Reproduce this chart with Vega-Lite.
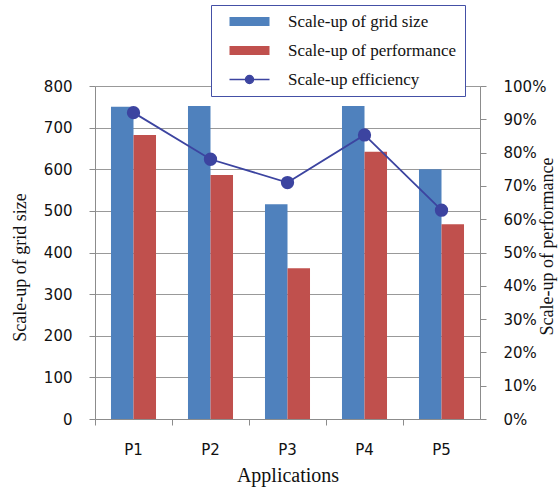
{
  "$schema": "https://vega.github.io/schema/vega-lite/v6.json",
  "width": 385,
  "height": 333,
  "autosize": {"type": "none"},
  "padding": {"left": 95, "top": 86, "right": 78, "bottom": 70},
  "background": "white",
  "config": {
    "view": {"stroke": null},
    "axis": {"labelFont": "DejaVu Sans", "labelFontSize": 15, "labelColor": "#111", "titleFont": "Liberation Serif", "titleFontWeight": "normal", "titleColor": "#111", "domainColor": "#8c8c8c", "tickColor": "#8c8c8c", "gridColor": "#999999"}
  },
  "datasets": {
    "bars": [
      {"app": "P1", "series": "Scale-up of grid size", "value": 750},
      {"app": "P1", "series": "Scale-up of performance", "value": 682},
      {"app": "P2", "series": "Scale-up of grid size", "value": 752},
      {"app": "P2", "series": "Scale-up of performance", "value": 586},
      {"app": "P3", "series": "Scale-up of grid size", "value": 516},
      {"app": "P3", "series": "Scale-up of performance", "value": 362},
      {"app": "P4", "series": "Scale-up of grid size", "value": 752},
      {"app": "P4", "series": "Scale-up of performance", "value": 642},
      {"app": "P5", "series": "Scale-up of grid size", "value": 600},
      {"app": "P5", "series": "Scale-up of performance", "value": 468}
    ],
    "eff": [
      {"app": "P1", "eff": 0.92},
      {"app": "P2", "eff": 0.78},
      {"app": "P3", "eff": 0.71},
      {"app": "P4", "eff": 0.853},
      {"app": "P5", "eff": 0.627}
    ]
  },
  "layer": [
    {
      "data": {"name": "bars"},
      "mark": {"type": "bar"},
      "encoding": {
        "x": {
          "field": "app", "type": "nominal",
          "scale": {"paddingInner": 0, "paddingOuter": 0},
          "axis": {"labelAngle": 0, "bandPosition": 0, "tickSize": 6, "labelPadding": 17, "title": "Applications", "titleFontSize": 20, "titleBaseline": "alphabetic", "titleY": 62, "grid": false}
        },
        "xOffset": {
          "field": "series", "type": "nominal",
          "scale": {"domain": ["Scale-up of grid size", "Scale-up of performance"], "paddingInner": 0, "paddingOuter": 0.71}
        },
        "y": {
          "field": "value", "type": "quantitative",
          "scale": {"domain": [0, 800], "nice": false},
          "axis": {"values": [0, 100, 200, 300, 400, 500, 600, 700, 800], "grid": true, "gridWidth": 1.2, "tickSize": 6, "labelPadding": 17, "title": "Scale-up of grid size", "titleFontSize": 18, "titleX": -75, "titleY": 181, "titleAngle": 270, "titleBaseline": "middle", "titleAlign": "center"}
        },
        "color": {
          "field": "series", "type": "nominal",
          "scale": {"domain": ["Scale-up of grid size", "Scale-up of performance", "Scale-up efficiency"], "range": ["#4F81BD", "#C0504D", "#3C44A0"]},
          "legend": {
            "orient": "none", "legendX": 116, "legendY": -81, "title": null,
            "symbolType": "M-1,-0.45H3V0.45H-1Z", "symbolSize": 400, "symbolOffset": 12,
            "labelFont": "Liberation Serif", "labelFontSize": 17, "labelColor": "#111", "labelOffset": 40, "labelLimit": 400,
            "labelExpr": "datum.label + '\u00a0\u00a0\u00a0'",
            "rowPadding": 11, "padding": 8, "strokeColor": "#4450A6", "fillColor": "white",
            "encode": {
              "symbols": {
                "update": {
                  "shape": {"signal": "datum.value === 'Scale-up efficiency' ? 'M-1,0H3M1.4,0A0.4,0.4,0,1,1,0.6,0A0.4,0.4,0,1,1,1.4,0Z' : 'M-1,-0.45H3V0.45H-1Z'"},
                  "stroke": {"value": "#3C44A0"},
                  "strokeWidth": {"signal": "datum.value === 'Scale-up efficiency' ? 1.5 : 0"},
                  "opacity": {"value": 1}
                }
              }
            }
          }
        }
      }
    },
    {
      "data": {"name": "eff"},
      "mark": {"type": "line", "color": "#3C44A0", "strokeWidth": 1.8, "point": {"filled": true, "size": 177, "color": "#3C44A0", "opacity": 1}},
      "encoding": {
        "x": {"field": "app", "type": "nominal"},
        "y": {
          "field": "eff", "type": "quantitative",
          "scale": {"domain": [0, 1], "nice": false},
          "axis": {"orient": "right", "format": ".0%", "values": [0, 0.1, 0.2, 0.3, 0.4, 0.5, 0.6, 0.7, 0.8, 0.9, 1], "grid": false, "tickSize": 6, "labelPadding": 17, "title": "Scale-up of performance", "titleFontSize": 18, "titleX": 67, "titleY": 160, "titleAngle": 270, "titleBaseline": "middle", "titleAlign": "center"}
        }
      }
    }
  ],
  "resolve": {"scale": {"y": "independent"}, "axis": {"y": "independent"}}
}
